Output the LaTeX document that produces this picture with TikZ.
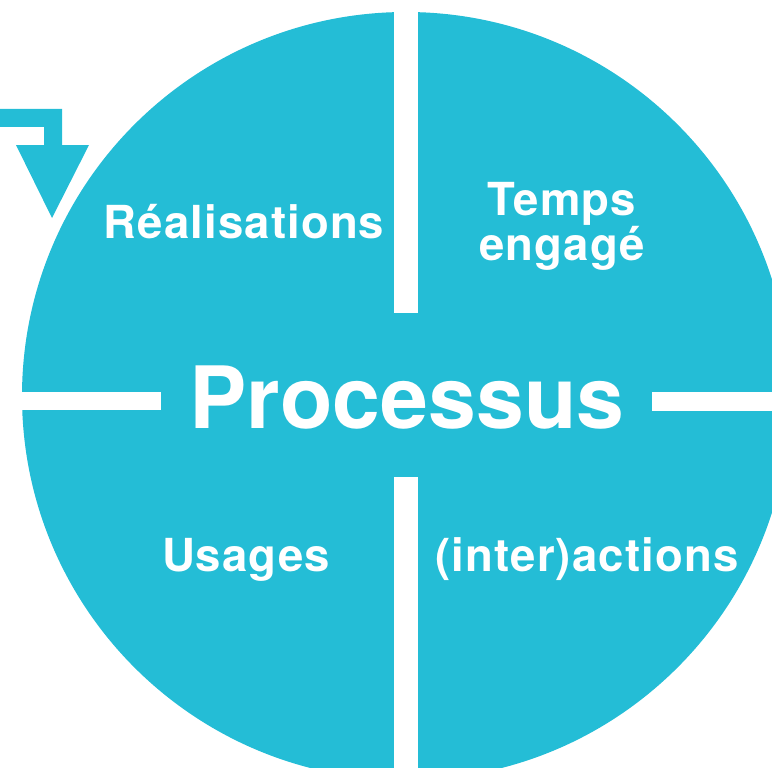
\documentclass[tikz,border=0pt]{standalone}
\usepackage{fontspec}
\setmainfont{TeX Gyre Heros}
\newfontfamily\quarterfont[LetterSpace=2.5]{TeX Gyre Heros}
\usepackage{tikz}
\usetikzlibrary{positioning, calc}
\definecolor{procblue}{HTML}{24BDD6}
\tikzset{
  quarter text/.style={text=white, inner sep=0pt, align=center,
    font=\quarterfont\bfseries\fontsize{45.5}{41}\selectfont},
  core text/.style={text=white, inner sep=0pt,
    font=\bfseries\fontsize{86}{86}\selectfont},
  gap bar/.style={fill=white},
}

\begin{document}
\begin{tikzpicture}[x=1pt, y=-1pt]
    % Frame
    \useasboundingbox (0,0) rectangle (772,768);
    \clip (0,0) rectangle (772,768);

    % Center and Circle Parameters
    \coordinate (C) at (406,396);
    \def\R{384}

    % Disc
    \fill[procblue] (C) circle (\R);

    % Return arrow
    \fill[procblue] (0,109) -- (62,109) -- (62,145) -- (89,145) -- (52,218)
        -- (16,145) -- (44,145) -- (44,127) -- (0,127) -- cycle;

    % Dividers
    \fill[gap bar] (394,0) rectangle (418,313);
    \fill[gap bar] (394,477) rectangle (418,768);
    \fill[gap bar] (0,392) rectangle (161,410);
    \fill[gap bar] (652,392) rectangle (772,411);

    % Labels
    \node[core text, anchor=base] (proc) at (407,428) {Processus};
    \node[quarter text, anchor=base] (real) at (244,238) {Réalisations};
    \node[quarter text, anchor=north] (temps) at (562,182) {Temps\\engagé};
    \node[quarter text, anchor=base] (usag) at (246,571) {Usages};
    \node[quarter text, anchor=base] (inter) at (587,571) {(inter)actions};

\end{tikzpicture}
\end{document}
